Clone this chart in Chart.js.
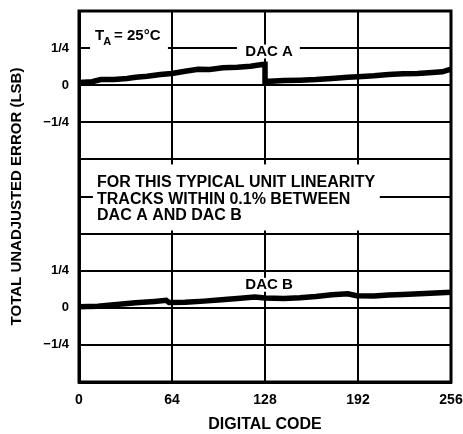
<!DOCTYPE html>
<html><head><meta charset="utf-8">
<script src="https://cdn.jsdelivr.net/npm/chart.js@4/dist/chart.umd.min.js"></script>
<style>html,body{margin:0;padding:0;background:#fff;}#wrap{width:463px;height:434px;}</style>
</head><body><div id="wrap"><canvas id="c" width="463" height="434"></canvas></div>
<script>
// ---- data ----
const codesA = [0, 9, 15, 24, 33, 39, 47, 56, 64, 73, 82, 90, 99, 109, 118, 126, 128, 128, 141, 152, 163, 174, 185, 192, 203, 213, 223, 233, 243, 250, 256];
const errA   = [0.018, 0.023, 0.038, 0.038, 0.045, 0.054, 0.061, 0.072, 0.079, 0.094, 0.108, 0.106, 0.117, 0.121, 0.128, 0.139, 0.14, 0.025, 0.032, 0.034, 0.038, 0.045, 0.054, 0.057, 0.063, 0.072, 0.077, 0.079, 0.086, 0.09, 0.108];
const codesB = [0, 13, 26, 39, 52, 60, 62, 73, 86, 98, 109, 121, 128, 141, 152, 163, 174, 185, 191, 203, 213, 223, 238, 256];
const errB   = [0.007, 0.011, 0.022, 0.034, 0.043, 0.05, 0.035, 0.037, 0.045, 0.054, 0.063, 0.072, 0.066, 0.062, 0.067, 0.076, 0.088, 0.094, 0.081, 0.08, 0.086, 0.09, 0.096, 0.104];
const xTickValues = [0, 64, 128, 192, 256];
const yTickValues = [-0.25, 0, 0.25];
const yTickText   = ['\u22121/4', '0', '1/4'];
const noteLines = ['FOR THIS TYPICAL UNIT LINEARITY', 'TRACKS WITHIN 0.1% BETWEEN', 'DAC A AND DAC B'];

const FONT = '"Liberation Sans", Arial, Helvetica, sans-serif';
const BLACK = '#000';

function yLabel(v) {
  const i = yTickValues.findIndex(t => Math.abs(t - v) < 1e-9);
  return i >= 0 ? yTickText[i] : '';
}

function panelScale(min, max) {
  return {
    type: 'linear', position: 'left', stack: 'panels', stackWeight: 1,
    min: min, max: max, offset: false,
    ticks: { stepSize: 0.25, autoSkip: false, color: BLACK, padding: 10, font: { family: FONT, size: 13, weight: 'bold' }, callback: v => yLabel(v) },
    grid: { color: BLACK, lineWidth: 2, drawTicks: false },
    border: { display: true, color: BLACK, width: 3 },
    afterFit: s => { s.width = 47; s.paddingTop = 0; s.paddingBottom = 0; }
  };
}

function rectData(ctx, xs, ys, x0, y0, x1, y1) {
  const px0 = xs.getPixelForValue(x0), px1 = xs.getPixelForValue(x1);
  const py0 = ys.getPixelForValue(y0), py1 = ys.getPixelForValue(y1);
  ctx.fillRect(Math.min(px0, px1), Math.min(py0, py1), Math.abs(px1 - px0), Math.abs(py1 - py0));
}

const notes = {
  id: 'notes',
  beforeDatasetsDraw(chart) {
    const { ctx } = chart;
    const xs = chart.scales.x, yA = chart.scales.yA, yB = chart.scales.yB;
    ctx.save();
    ctx.fillStyle = '#fff';
    rectData(ctx, xs, yA, 9.6, -0.534, 207, -0.979);   // note block
    rectData(ctx, xs, yA, 7.6, 0.30, 61.2, 0.207);     // T_A label
    rectData(ctx, xs, yA, 108.7, 0.274, 152, 0.18);    // DAC A label
    rectData(ctx, xs, yB, 112.9, 0.202, 149.3, 0.108); // DAC B label
    ctx.restore();
  },
  afterDatasetsDraw(chart) {
    const { ctx, chartArea } = chart;
    const xs = chart.scales.x, yA = chart.scales.yA, yB = chart.scales.yB;
    ctx.save();
    ctx.fillStyle = BLACK;
    ctx.textBaseline = 'middle';
    // T_A = 25°C
    ctx.textAlign = 'left';
    ctx.font = 'bold 15px ' + FONT;
    let tx = xs.getPixelForValue(11);
    const ty = yA.getPixelForValue(0.335);
    ctx.fillText('T', tx, ty);
    tx += ctx.measureText('T').width - 1;
    ctx.font = 'bold 11px ' + FONT;
    ctx.fillText('A', tx, ty + 6);
    tx += ctx.measureText('A').width + 3;
    ctx.font = 'bold 15px ' + FONT;
    ctx.fillText('= 25\u00B0C', tx, ty);
    // series labels
    ctx.textAlign = 'center';
    ctx.fillText('DAC A', xs.getPixelForValue(130.8), yA.getPixelForValue(0.227));
    ctx.fillText('DAC B', xs.getPixelForValue(130.8), yB.getPixelForValue(0.155));
    // note block
    ctx.textAlign = 'left';
    ctx.font = 'bold 16px ' + FONT;
    const nx = xs.getPixelForValue(12.4);
    const ny = [-0.655, -0.77, -0.878];
    noteLines.forEach((t, i) => ctx.fillText(t, nx, yA.getPixelForValue(ny[i])));
    // frame
    ctx.strokeStyle = BLACK;
    ctx.lineWidth = 3;
    ctx.strokeRect(chartArea.left, chartArea.top, chartArea.right - chartArea.left, chartArea.bottom - chartArea.top);
    ctx.restore();
  }
};

new Chart(document.getElementById('c'), {
  type: 'line',
  data: {
    datasets: [
      { label: 'DAC A', yAxisID: 'yA', data: codesA.map((x, i) => ({ x: x, y: errA[i] })),
        borderColor: BLACK, borderWidth: 5.5, pointRadius: 0, tension: 0, fill: false },
      { label: 'DAC B', yAxisID: 'yB', data: codesB.map((x, i) => ({ x: x, y: errB[i] })),
        borderColor: BLACK, borderWidth: 5.5, pointRadius: 0, tension: 0, fill: false }
    ]
  },
  options: {
    responsive: false, animation: false, devicePixelRatio: 1,
    layout: { padding: { top: 11, right: 12, left: 0, bottom: 0 } },
    plugins: { legend: { display: false }, tooltip: { enabled: false } },
    scales: {
      x: {
        type: 'linear', position: 'bottom', min: 0, max: 256,
        afterBuildTicks: s => { s.ticks = xTickValues.map(v => ({ value: v })); },
        ticks: { autoSkip: false, color: BLACK, padding: 10, maxRotation: 0, font: { family: FONT, size: 14, weight: 'bold' }, callback: v => String(v) },
        grid: { color: BLACK, lineWidth: 2, drawTicks: false },
        border: { display: true, color: BLACK, width: 3 },
        title: { display: true, text: 'DIGITAL CODE', color: BLACK, padding: { top: 0, bottom: 0 }, font: { family: FONT, size: 16, weight: 'bold' } },
        afterFit: s => { s.height = 52; s.paddingLeft = 0; s.paddingRight = 0; }
      },
      yB: panelScale(-0.5, 0.75),
      yA: panelScale(-0.75, 0.5),
      yT: {
        type: 'linear', position: 'left', weight: 1, min: 0, max: 1,
        ticks: { display: false }, grid: { display: false }, border: { display: false },
        title: { display: true, text: 'TOTAL UNADJUSTED ERROR (LSB)', color: BLACK, padding: { top: 8, bottom: 0 }, font: { family: FONT, size: 15, weight: 'bold' } },
        afterFit: s => { s.width = 32; s.paddingTop = 0; s.paddingBottom = 0; }
      }
    }
  },
  plugins: [notes]
});
</script>
</body></html>
